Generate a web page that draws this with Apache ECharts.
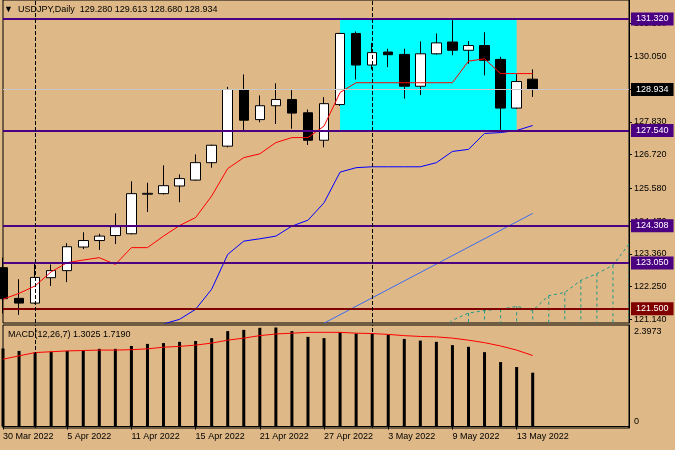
<!DOCTYPE html>
<html><head><meta charset="utf-8">
<script src="https://cdn.jsdelivr.net/npm/echarts@6/dist/echarts.min.js"></script>
<style>html,body{margin:0;padding:0;background:#deb887;}#c{width:675px;height:450px;}</style>
</head><body><div id="c"></div>
<script>
// ---- data ----
const dates = ['30 Mar 2022','31 Mar 2022','1 Apr 2022','4 Apr 2022','5 Apr 2022','6 Apr 2022','7 Apr 2022','8 Apr 2022',
'11 Apr 2022','12 Apr 2022','13 Apr 2022','14 Apr 2022','15 Apr 2022','18 Apr 2022','19 Apr 2022','20 Apr 2022',
'21 Apr 2022','22 Apr 2022','25 Apr 2022','26 Apr 2022','27 Apr 2022','28 Apr 2022','29 Apr 2022','2 May 2022',
'3 May 2022','4 May 2022','5 May 2022','6 May 2022','9 May 2022','10 May 2022','11 May 2022','12 May 2022',
'13 May 2022','16 May 2022','17 May 2022','18 May 2022','19 May 2022','20 May 2022','23 May 2022','24 May 2022'];
const opens  = [122.89,121.85,121.69,122.55,122.79,123.59,123.81,123.98,124.04,125.38,125.40,125.66,125.86,126.45,127.01,128.93,
127.91,128.38,128.59,128.14,127.21,128.42,130.83,129.76,130.20,130.12,129.04,130.14,130.54,130.26,130.42,129.95,128.30,129.280];
const closes = [121.84,121.69,122.56,122.79,123.60,123.81,123.96,124.28,125.40,125.41,125.67,125.91,126.45,127.04,128.93,127.89,
128.38,128.59,128.13,127.21,128.45,130.83,129.76,130.18,130.11,129.04,130.14,130.51,130.26,130.42,129.92,128.30,129.20,128.934];
const lows   = [121.34,121.29,121.66,122.27,122.40,123.52,123.49,123.69,124.02,124.78,125.37,125.11,125.84,126.28,126.97,127.49,
127.82,127.76,127.60,127.05,126.97,128.37,129.27,129.61,129.69,128.62,128.74,130.11,130.09,129.80,129.41,127.54,128.27,128.680];
const highs  = [123.23,122.50,123.08,123.00,123.72,124.09,124.04,124.73,125.82,125.77,126.36,126.05,126.73,127.06,129.02,129.44,
128.73,129.14,128.91,128.25,128.67,130.85,130.90,130.51,130.31,130.31,130.56,130.83,131.28,130.57,130.87,130.04,129.45,129.613];
const redLine = [121.82,122.02,122.27,122.75,123.06,123.15,123.23,123.00,123.57,123.57,123.96,124.32,124.59,125.32,126.25,126.62,
126.75,127.13,127.30,127.30,127.69,128.83,129.16,129.16,129.16,129.16,129.16,129.16,129.16,129.89,129.97,129.47,129.47,129.47];
const blueLine = [null,null,null,null,null,null,null,null,null,null,120.98,121.14,121.48,122.16,123.34,123.79,
123.87,123.96,124.30,124.50,125.09,126.13,126.28,126.31,126.31,126.31,126.31,126.45,126.83,126.90,127.44,127.47,127.54,127.71];
const trendLine = [null,null,null,null,null,null,null,null,null,null,null,null,null,null,null,null,
null,null,null,null,121.01,null,null,null,null,null,null,null,null,null,null,null,null,124.73];
const cloudLine = [null,null,null,null,null,null,null,null,null,null,null,null,null,null,null,null,null,null,null,null,
null,null,null,null,null,null,null,120.60,121.11,121.35,121.44,121.48,121.58,121.44,121.94,122.05,122.46,122.69,122.97,123.69];
const macdHist = [1.89,1.83,1.80,1.81,1.83,1.85,1.88,1.88,1.95,2.00,2.02,2.05,2.07,2.14,2.31,2.34,
2.39,2.3973,2.31,2.17,2.14,2.28,2.25,2.26,2.22,2.12,2.08,2.05,1.97,1.93,1.80,1.56,1.44,1.3025];
const macdSignal = [1.63,1.71,1.79,1.81,1.83,1.84,1.85,1.85,1.86,1.88,1.92,1.94,1.97,2.02,2.09,2.14,
2.20,2.24,2.26,2.28,2.28,2.28,2.26,2.25,2.23,2.20,2.18,2.17,2.14,2.09,2.03,1.95,1.85,1.719];
const priceTicks = [121.14,122.25,123.36,124.47,125.58,126.72,127.83,128.94,130.05,131.16];
const macdTicks = [0,2.3973];
const purpleLevels = [131.32,127.54,124.308,123.05];
const redLevels = [121.5];
const boxStart = '28 Apr 2022', boxEnd = '13 May 2022', boxTop = 131.32, boxBottom = 127.54;
const separators = ['1 Apr 2022','2 May 2022'];

// ---- chart ----
const FONT = 'Liberation Sans';
const MAIN_MIN = 121.015, MAIN_MAX = 131.964;
const MACD_MIN = -0.0363, MACD_MAX = 2.4576;
const PURPLE = '#4b0082', DRED = '#800000', TEAL = '#1a9a88';
const last = opens.length - 1;
const lblIdx = (i) => i % 4 === 0 && i <= 32;

const candleData = opens.map((o, i) => [o, closes[i], lows[i], highs[i]]);
const cloudDrops = [];
cloudLine.forEach((v, i) => { if (v != null && i >= 29) cloudDrops.push([i, v]); });

function levelItem(v, bg, lineColor, w) {
  return {
    yAxis: v,
    lineStyle: { color: lineColor, width: w, type: 'solid' },
    label: { show: true, position: 'end', distance: 2, formatter: v.toFixed(3), color: '#fff',
      backgroundColor: bg, padding: [2, 5, 1, 5], fontSize: 9, fontFamily: FONT, lineHeight: 10 }
  };
}
const mainMarks = [];
mainMarks.push(levelItem(closes[last], '#000', '#c8c8c8', 1));
purpleLevels.forEach(v => mainMarks.push(levelItem(v, PURPLE, PURPLE, 2)));
redLevels.forEach(v => mainMarks.push(levelItem(v, DRED, DRED, 2)));
const sepMarks = separators.map(d => ({ xAxis: d, lineStyle: { color: '#000', width: 1, type: [4, 2] }, label: { show: false } }));

const chart = echarts.init(document.getElementById('c'));
chart.setOption({
  animation: false,
  backgroundColor: '#deb887',
  textStyle: { fontFamily: FONT },
  title: [{
    text: '\u25BC  USDJPY,Daily  ' + [opens[last], highs[last], lows[last], closes[last]].map(v => v.toFixed(3)).join(' '),
    left: 4, top: 5, padding: 0,
    textStyle: { fontSize: 9, fontWeight: 'normal', color: '#000', fontFamily: FONT }
  }, {
    text: 'MACD(12,26,7) ' + macdHist[last].toFixed(4) + ' ' + macdSignal[last].toFixed(4),
    left: 8, top: 330, padding: 0,
    textStyle: { fontSize: 9, fontWeight: 'normal', color: '#000', fontFamily: FONT }
  }],
  grid: [
    { left: 3, right: 46, top: 0, height: 323, show: true, borderColor: '#000', borderWidth: 1, backgroundColor: 'transparent' },
    { left: 3, right: 46, top: 325, height: 103, show: true, borderColor: '#000', borderWidth: 1, backgroundColor: 'transparent' }
  ],
  xAxis: [
    { type: 'category', data: dates, gridIndex: 0, boundaryGap: false,
      axisLine: { show: false }, axisTick: { show: false }, axisLabel: { show: false }, splitLine: { show: false } },
    { type: 'category', data: dates, gridIndex: 1, boundaryGap: false,
      axisLine: { show: true, lineStyle: { color: '#000' } },
      axisTick: { show: true, interval: lblIdx, length: 3, lineStyle: { color: '#000' } },
      axisLabel: { interval: lblIdx, align: 'left', color: '#000', fontSize: 9, fontFamily: FONT, margin: 4 },
      splitLine: { show: false } }
  ],
  yAxis: [
    { type: 'value', gridIndex: 0, position: 'right', min: MAIN_MIN, max: MAIN_MAX,
      splitLine: { show: false },
      axisLine: { show: true, lineStyle: { color: '#000' } },
      axisTick: { show: true, length: 3, customValues: priceTicks, lineStyle: { color: '#000' } },
      axisLabel: { customValues: priceTicks, formatter: v => v.toFixed(3), color: '#000', fontSize: 9, fontFamily: FONT, margin: 5 } },
    { type: 'value', gridIndex: 1, position: 'right', min: MACD_MIN, max: MACD_MAX,
      splitLine: { show: false },
      axisLine: { show: true, lineStyle: { color: '#000' } },
      axisTick: { show: false, customValues: macdTicks },
      axisLabel: { customValues: macdTicks, color: '#000', fontSize: 9, fontFamily: FONT, margin: 5,
        formatter: v => v === 0 ? '{b|0}' : '{t|' + v.toFixed(4) + '}',
        rich: { t: { padding: [9, 0, 0, 0], fontSize: 9, fontFamily: FONT, color: '#000' },
                b: { padding: [0, 0, 9, 0], fontSize: 9, fontFamily: FONT, color: '#000' } } } }
  ],
  series: [
    { type: 'line', name: 'box', xAxisIndex: 0, yAxisIndex: 0, data: [], z: 1,
      markArea: { silent: true, itemStyle: { color: '#00ffff', opacity: 1 },
        data: [[{ xAxis: boxStart, yAxis: boxTop }, { xAxis: boxEnd, yAxis: boxBottom }]] } },
    { type: 'candlestick', name: 'USDJPY', xAxisIndex: 0, yAxisIndex: 0, data: candleData, barWidth: 10, z: 3, clip: true,
      itemStyle: { color: '#ffffff', color0: '#000000', borderColor: '#000000', borderColor0: '#000000', borderWidth: 1 },
      markLine: { silent: true, symbol: 'none', z: 6, data: mainMarks.concat(sepMarks) } },
    { type: 'line', name: 'red', xAxisIndex: 0, yAxisIndex: 0, data: redLine, symbol: 'none', z: 4,
      lineStyle: { color: '#ff0000', width: 1 } },
    { type: 'line', name: 'blue', xAxisIndex: 0, yAxisIndex: 0, data: blueLine, symbol: 'none', z: 4, clip: true,
      lineStyle: { color: '#0000ff', width: 1 } },
    { type: 'line', name: 'trend', xAxisIndex: 0, yAxisIndex: 0, data: trendLine, symbol: 'none', z: 4, clip: true, connectNulls: true,
      lineStyle: { color: '#3b6cf0', width: 1 } },
    { type: 'line', name: 'cloud', xAxisIndex: 0, yAxisIndex: 0, data: cloudLine, symbol: 'none', z: 4, clip: true,
      lineStyle: { color: TEAL, width: 1, type: [3, 3] } },
    { type: 'custom', name: 'cloudDrops', xAxisIndex: 0, yAxisIndex: 0, data: cloudDrops, z: 4, clip: true,
      encode: { x: 0, y: 1 },
      renderItem: function (params, api) {
        const p1 = api.coord([api.value(0), api.value(1)]);
        const p2 = api.coord([api.value(0), MAIN_MIN]);
        return { type: 'line', shape: { x1: p1[0], y1: p1[1], x2: p1[0], y2: p2[1] },
          style: { stroke: TEAL, lineWidth: 1, lineDash: [3, 3] } };
      } },
    { type: 'bar', name: 'MACD', xAxisIndex: 1, yAxisIndex: 1, data: macdHist, barWidth: 3, z: 3,
      itemStyle: { color: '#000' },
      markLine: { silent: true, symbol: 'none', data: sepMarks } },
    { type: 'line', name: 'Signal', xAxisIndex: 1, yAxisIndex: 1, data: macdSignal, symbol: 'none', z: 4,
      lineStyle: { color: '#ff0000', width: 1 } }
  ]
});
</script>
</body></html>
